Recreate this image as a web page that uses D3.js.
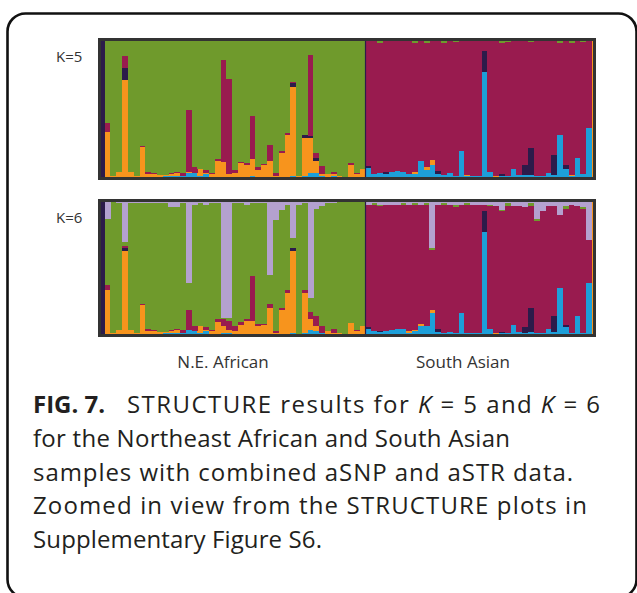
<!DOCTYPE html>
<html>
<head>
<meta charset="utf-8">
<script src="https://cdn.jsdelivr.net/npm/d3@7"></script>
<style>
  html, body { margin: 0; padding: 0; background: #fff; }
  svg { display: block; }
</style>
</head>
<body>
<svg id="fig" width="637" height="593"></svg>
<script>
// Individuals in plot order: one clipped sample of the preceding population,
// 45 N.E. African, 39 South Asian, one clipped sample of the following population.
const populations = ["N.E. African", "South Asian"];
const populationSizes = [45, 39];

// Ancestry clusters, stacked from the bottom up.
const clusterKeys = ["blue", "orange", "dark", "crimson", "green", "lilac"];
const clusterColors = ["#1d9fd9", "#f7941d", "#2c1b4a", "#991b4f", "#6f9a2c", "#b4a1cf"];

const panelLabels = ["K=5", "K=6"];

// ---------- K = 5 membership coefficients ----------
const k5Blue = [0,
  0,0,0,0,0,0,0,0,0,0, .005,.01,.01,.01,.03,.03,.01,.02,0,0,
  0,0,0,0,0,.01,0,0,0,0, 0,0,.01,0,.01,.03,.03,.01,0,.01, 0,0,0,0,0,
  .065,.02,.03,.02,.035,.045,.04,.02,.02,.12, .05,.09,.025,.015,.03,.01,.19,.01,.01,.005,
  .77,.035,0,.01,.005,.06,.015,.015,.015,.01, .01,.03,.015,.31,.06,.01,.14,.02,.36,
  0];
const k5Orange = [0,
  .33,.01,.04,.71,.04,.01,.22,.025,.02,.015, .01,.01,.02,0,.01,0,.05,.01,.02,.12,
  .11,.02,.03,.10,.09,.12,.05,.085,.115,.01, .18,.31,.65,.01,.28,.26,.085,.01,.02,.01, .01,0,.09,.02,.06,
  0,0,0,0,0,0,0,.005,.015,0, .025,.035,0,0,0,0,0,.005,0,.005,
  0,0,.005,0,0,0,0,0,0,0, 0,0,0,0,0,.005,0,0,0,
  1];
const k5Dark = [1,
  0,0,0,.09,0,0,0,0,0,0, 0,0,0,0,0,0,0,0,0,0,
  0,0,0,0,0,0,0,0,0,0, 0,0,.03,0,.02,.01,.025,0,0,.005, 0,0,0,0,0,
  .017,0,0,.017,.005,0,0,0,0,0, 0,0,.02,0,0,0,0,0,0,0,
  .155,0,.005,.01,0,0,0,.07,.195,0, 0,0,.145,0,.025,0,0,0,0,
  0];
const k5Crimson = [0,
  .07,0,0,.09,0,0,.01,.015,.01,0, 0,.01,.01,.02,.45,.04,0,.02,.01,.01,
  .75,.70,.02,.01,.01,.32,.02,.01,.12,.02, .01,.01,.01,0,0,.60,.035,.06,0,.015, 0,0,.01,.01,0,
  .918,.98,.955,.963,.96,.955,.96,.975,.95,.88, .91,.875,.955,.97,.97,.98,.81,.985,.99,.99,
  .075,.965,.99,.965,.985,.94,.985,.915,.78,.99, .99,.97,.84,.675,.915,.97,.86,.97,.64,
  0];
const k5Green = [0,
  .60,.99,.96,.11,.96,.99,.77,.96,.97,.985, .985,.97,.96,.97,.51,.93,.94,.95,.97,.87,
  .14,.28,.95,.89,.90,.55,.93,.905,.765,.97, .81,.68,.30,.99,.69,.10,.825,.92,.98,.96, .99,1,.90,.97,.94,
  0,0,.015,0,0,0,0,0,.015,0, .015,0,0,.015,0,.01,0,0,0,0,
  0,0,0,.015,.01,0,0,0,.01,0, 0,0,0,.015,0,.015,0,.01,0,
  0];

// ---------- K = 6 membership coefficients ----------
const k6Blue = [0,
  0,0,0,0,0,0,0,0,0,0, .005,.01,.01,.01,.03,.02,.01,.02,0,0,
  .01,.01,0,0,0,0,0,0,0,0, 0,0,.01,0,.01,.03,.02,.01,0,0, 0,0,0,0,0,
  .035,.02,.015,.02,.03,.04,.035,.01,.02,.06, .06,.16,.015,.01,.015,.01,.16,.01,.01,.005,
  .77,.035,0,.005,.005,.07,.015,.01,.015,.005, .01,.035,.015,.35,.05,.01,.14,.01,.39,
  0];
const k6Orange = [0,
  .33,.01,.03,.63,.03,.005,.22,.025,.02,.015, .01,.01,.02,0,0,0,.05,.01,.02,.09,
  .05,.02,.02,.07,.10,.10,.06,.07,.20,.01, .18,.31,.62,0,.30,.08,.04,0,.02,.01, .01,0,.08,.02,.06,
  0,0,0,0,0,0,0,.01,.01,.015, 0,.025,0,0,0,0,0,0,0,.005,
  0,0,.005,0,0,0,0,0,0,0, 0,0,0,0,0,0,0,0,0,
  1];
const k6Dark = [1,
  0,0,0,.02,0,0,0,0,0,0, 0,0,0,0,0,0,0,0,0,0,
  0,0,0,0,0,0,0,0,0,0, 0,0,.02,0,0,0,0,0,0,0, 0,0,0,0,0,
  .015,0,.01,0,0,0,0,0,0,0, 0,0,.02,0,0,0,0,0,0,0,
  .165,0,.005,.01,0,0,0,.045,.185,0, 0,0,.125,0,.02,0,0,0,0,
  0];
const k6Crimson = [0,
  .045,0,0,.02,0,0,.01,.015,.01,0, 0,.01,.01,.02,.15,.04,0,.02,.01,.02,
  .05,.07,.04,.02,.01,.34,.015,.005,.025,.01, .015,.02,0,0,.02,.06,.075,.05,0,.025, 0,0,0,.01,0,
  .925,.955,.945,.96,.95,.94,.945,.96,.945,.905, .915,.455,.945,.965,.965,.955,.815,.965,.97,.97,
  .045,.935,.96,.915,.965,.90,.955,.91,.77,.85, .92,.935,.83,.55,.88,.97,.83,.935,.32,
  0];
const k6Green = [0,
  .495,.99,.96,.03,.96,.985,.76,.95,.96,.975, .98,.93,.92,.96,.205,.92,.93,.93,.96,.88,
  .01,.02,.93,.90,.87,.55,.915,.915,.225,.84, .745,.65,.075,.98,.66,.10,.815,.91,.97,.955, .99,1,.92,.97,.94,
  .005,.015,.01,0,0,0,.01,0,.02,0, .02,.01,0,.02,0,.01,0,.015,0,0,
  0,.01,0,.01,.02,0,0,0,.02,.02, 0,0,0,0,.02,0,0,.02,0,
  0];
const k6Lilac = [0,
  .13,0,.01,.30,.01,.01,.01,.01,.01,.01, .005,.04,.04,.01,.615,.02,.01,.02,.01,.01,
  .88,.88,.01,.01,.02,.01,.01,.01,.55,.14, .06,.02,.275,.02,.01,.73,.05,.03,.01,.01, 0,0,0,0,0,
  .02,.01,.02,.02,.02,.02,.01,.02,.005,.02, .005,.35,.02,.005,.02,.025,.025,.01,.02,.02,
  .02,.02,.03,.06,.01,.03,.03,.035,.01,.125, .07,.03,.03,.10,.03,.02,.03,.035,.29,
  0];

const panels = [
  { label: panelLabels[0], series: [k5Blue, k5Orange, k5Dark, k5Crimson, k5Green, null] },
  { label: panelLabels[1], series: [k6Blue, k6Orange, k6Dark, k6Crimson, k6Green, k6Lilac] }
];

const svg = d3.select("#fig");
const FONT = "'Open Sans', 'Noto Sans', sans-serif";

// Rounded figure frame
svg.append("rect")
  .attr("x", 7.5).attr("y", 13.5)
  .attr("width", 629).attr("height", 584)
  .attr("rx", 18).attr("ry", 18)
  .attr("fill", "none").attr("stroke", "#111").attr("stroke-width", 2.6);

const nInd = k5Blue.length;
const x = d3.scaleBand()
  .domain(d3.range(nInd))
  .range([98.7, 98.7 + nInd * 5.8])
  .paddingInner(0).paddingOuter(0);

const plotLeft = 101, plotRight = 593;
const panelBoxes = [ { top: 41, bottom: 177 }, { top: 202, bottom: 334 } ];

panels.forEach((p, pi) => {
  const box = panelBoxes[pi];
  const y = d3.scaleLinear().domain([0, 1]).range([box.bottom, box.top]);

  const rows = d3.range(nInd).map(i => {
    const r = { idx: i };
    clusterKeys.forEach((k, ci) => { r[k] = p.series[ci] ? p.series[ci][i] : 0; });
    return r;
  });
  const stacked = d3.stack().keys(clusterKeys)(rows);

  const clipId = "clip" + pi;
  svg.append("clipPath").attr("id", clipId)
    .append("rect")
    .attr("x", plotLeft).attr("y", box.top)
    .attr("width", plotRight - plotLeft).attr("height", box.bottom - box.top);

  const g = svg.append("g").attr("clip-path", `url(#${clipId})`);

  g.selectAll("g.layer")
    .data(stacked)
    .join("g")
      .attr("class", "layer")
      .attr("fill", (d, i) => clusterColors[i])
    .selectAll("rect")
    .data(d => d.filter(s => s[1] - s[0] > 0))
    .join("rect")
      .attr("x", d => x(d.data.idx))
      .attr("width", x.bandwidth() + 0.3)
      .attr("y", d => y(d[1]))
      .attr("height", d => y(d[0]) - y(d[1]))
      .attr("shape-rendering", "crispEdges");

  // Population divider
  const divX = x(1 + populationSizes[0]);
  g.append("line")
    .attr("x1", divX).attr("x2", divX)
    .attr("y1", box.top).attr("y2", box.bottom)
    .attr("stroke", "#2c1b4a").attr("stroke-width", 1.2);

  // Panel border
  svg.append("rect")
    .attr("x", plotLeft - 1.5).attr("y", box.top - 1.5)
    .attr("width", plotRight - plotLeft + 3).attr("height", box.bottom - box.top + 3)
    .attr("fill", "none").attr("stroke", "#333").attr("stroke-width", 3);

  svg.append("text")
    .attr("x", 56).attr("y", box.top + 20.5)
    .attr("font-family", FONT)
    .attr("font-size", 15).attr("fill", "#333")
    .text(p.label);
});

// Population labels under the lower panel
const popCenters = [223, 463];
svg.selectAll("text.pop")
  .data(populations)
  .join("text")
    .attr("class", "pop")
    .attr("x", (d, i) => popCenters[i])
    .attr("y", 368)
    .attr("text-anchor", "middle")
    .attr("font-family", FONT)
    .attr("font-size", 17).attr("fill", "#333")
    .text(d => d);

// Caption
const capX = 33, capY0 = 413, capStep = 33.8, capSize = 24;
const cap = svg.append("g")
  .attr("font-family", FONT)
  .attr("font-size", capSize).attr("fill", "#231f20");

cap.append("text")
  .attr("x", capX).attr("y", capY0)
  .attr("font-weight", "bold")
  .text("FIG. 7.");

const title = cap.append("text").attr("x", 127).attr("y", capY0)
  .attr("textLength", 473).attr("lengthAdjust", "spacing");
title.append("tspan").text("STRUCTURE results for ");
title.append("tspan").attr("font-style", "italic").text("K");
title.append("tspan").text(" = 5 and ");
title.append("tspan").attr("font-style", "italic").text("K");
title.append("tspan").text(" = 6");

const captionLines = [
  "for the Northeast African and South Asian",
  "samples with combined aSNP and aSTR data.",
  "Zoomed in view from the STRUCTURE plots in",
  "Supplementary Figure S6."
];
const captionWidths = [477, 540, 554, 289];
cap.selectAll("text.cl")
  .data(captionLines)
  .join("text")
    .attr("class", "cl")
    .attr("x", capX)
    .attr("y", (d, i) => capY0 + capStep * (i + 1))
    .attr("textLength", (d, i) => captionWidths[i])
    .attr("lengthAdjust", "spacing")
    .text(d => d);
</script>
</body>
</html>
